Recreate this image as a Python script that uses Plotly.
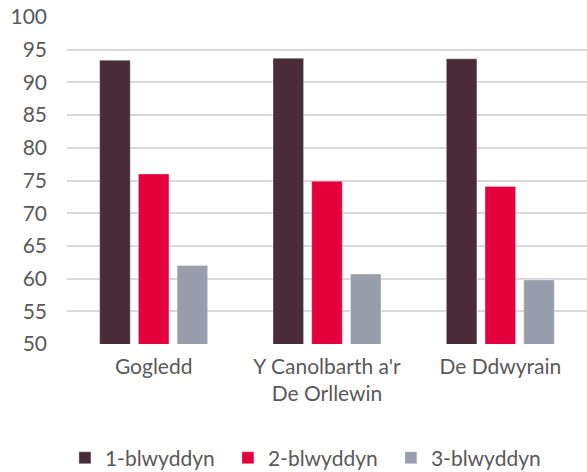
import plotly.graph_objects as go

categories = ["Gogledd", "Y Canolbarth a'r<br>De Orllewin", "De Ddwyrain"]
series_names = ["1-blwyddyn", "2-blwyddyn", "3-blwyddyn"]
values_1 = [93.4, 93.7, 93.6]
values_2 = [76.0, 74.9, 74.1]
values_3 = [62.0, 60.7, 59.8]
y_ticks = [50, 55, 60, 65, 70, 75, 80, 85, 90, 95, 100]

colors = ["#4A2C38", "#E4003D", "#989EAB"]
series_values = [values_1, values_2, values_3]

fig = go.Figure()
for name, vals, col in zip(series_names, series_values, colors):
    fig.add_trace(go.Bar(
        x=categories, y=vals, name=name,
        marker=dict(color=col, line=dict(color="rgba(255,255,255,0.35)", width=1)),
        base=0,
    ))

font_family = "Lato, 'Open Sans', sans-serif"
fs = 21
fig.update_layout(
    width=587, height=472,
    margin=dict(l=67, r=0, t=17, b=128, autoexpand=False),
    paper_bgcolor="white", plot_bgcolor="white",
    barmode="group", bargap=0.33, bargroupgap=0.21,
    font=dict(family=font_family, size=fs, color="#595959"),
    showlegend=True,
    legend=dict(orientation="h", x=-0.004, xanchor="left", y=-0.349, yanchor="middle",
                font=dict(size=fs, color="#595959"), itemwidth=30, entrywidth=118),
    xaxis=dict(showgrid=False, ticks="", showline=False, ticklabelstandoff=8,
               tickfont=dict(size=fs, color="#595959")),
    yaxis=dict(range=[50, 100], tickvals=y_ticks, showgrid=True, gridcolor="#D9D9D9",
               gridwidth=2, zeroline=False, showline=False, ticks="",
               ticklabeloverflow="allow",
               tickfont=dict(size=fs, color="#595959"), ticklabelstandoff=19),
)
# remove the page's default 8px body margin so the figure fills the window
fig.write_html("out.html",
               config={"displayModeBar": False},
               post_script="document.body.style.margin='0';document.body.style.overflow='hidden';")
